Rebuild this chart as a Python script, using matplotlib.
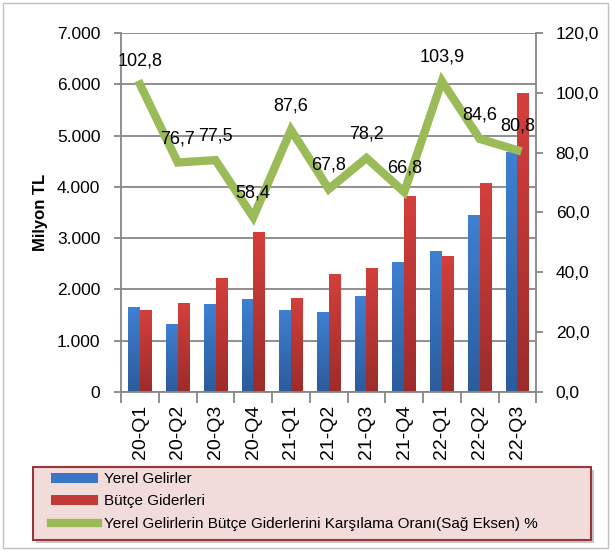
import numpy as np
import matplotlib.pyplot as plt
from matplotlib.colors import LinearSegmentedColormap
from matplotlib.patches import Rectangle
from matplotlib.ticker import FuncFormatter

quarters = ['20-Q1', '20-Q2', '20-Q3', '20-Q4', '21-Q1', '21-Q2', '21-Q3',
            '21-Q4', '22-Q1', '22-Q2', '22-Q3']
yerel = [1650, 1330, 1720, 1820, 1600, 1560, 1870, 2530, 2750, 3450, 4680]
butce = [1600, 1740, 2220, 3120, 1840, 2300, 2420, 3820, 2650, 4070, 5830]
oran = [102.8, 76.7, 77.5, 58.4, 87.6, 67.8, 78.2, 66.8, 103.9, 84.6, 80.8]

plt.rcParams['font.family'] = ['Liberation Sans', 'DejaVu Sans']
grey = '#868686'

fig = plt.figure(figsize=(6.15, 5.55), dpi=100)
ax = fig.add_axes([0.197, 0.294, 0.675, 0.6465])

x = np.arange(len(quarters))
w = 0.31
b1 = ax.bar(x - w / 2, yerel, w, color='#3a77c6', zorder=2, label='Yerel Gelirler')
b2 = ax.bar(x + w / 2, butce, w, color='#c23a38', zorder=2, label='Bütçe Giderleri')

# dikey renk geçişi
cm_b = LinearSegmentedColormap.from_list('b', ['#2b5c9c', '#3f80d2'])
cm_r = LinearSegmentedColormap.from_list('r', ['#9c2c2a', '#d43f3c'])
grad = np.linspace(0, 1, 64).reshape(-1, 1)
for bars, cm in ((b1, cm_b), (b2, cm_r)):
    for p in bars:
        x0, h = p.get_x(), p.get_height()
        im = ax.imshow(grad, extent=[x0, x0 + p.get_width(), 0, h], origin='lower',
                       aspect='auto', cmap=cm, zorder=2.1)
        im.set_clip_path(p)

ax.set_xlim(-0.5, len(quarters) - 0.5)
ax.set_ylim(0, 7000)
ax.set_yticks(range(0, 7001, 1000))
ax.yaxis.set_major_formatter(FuncFormatter(lambda v, p: '{:,.0f}'.format(v).replace(',', '.')))
ax.grid(axis='y', color=grey, lw=1.3, zorder=0)
ax.set_xticks(x)
ax.set_xticklabels(quarters, rotation=90, fontsize=14)
ax.set_xticks(np.arange(-0.5, len(quarters)), minor=True)
ax.tick_params(axis='x', which='major', length=0, pad=9)
ax.tick_params(axis='x', which='minor', length=8, width=1.3, color=grey)
ax.tick_params(axis='y', labelsize=12.5, length=5, width=1.3, color=grey, pad=10)
ax.set_ylabel('Milyon TL', fontsize=12, fontweight='bold', labelpad=6)
for s in ['left', 'bottom', 'right']:
    ax.spines[s].set_color(grey)
    ax.spines[s].set_linewidth(1.3)
ax.spines['top'].set_visible(False)

ax2 = ax.twinx()
ln, = ax2.plot(x, oran, color='#9bbb59', lw=6, solid_joinstyle='miter',
               label='Yerel Gelirlerin Bütçe Giderlerini Karşılama Oranı(Sağ Eksen) %')
ax2.set_ylim(0, 120)
ax2.set_yticks(range(0, 121, 20))
ax2.yaxis.set_major_formatter(FuncFormatter(lambda v, p: '{:.1f}'.format(v).replace('.', ',')))
ax2.tick_params(axis='y', labelsize=12.5, length=5, width=1.3, color=grey, pad=9)
for s in ax2.spines.values():
    s.set_visible(False)
for xi, v in zip(x, oran):
    ax2.annotate('{:.1f}'.format(v).replace('.', ','), (xi, v), xytext=(0, 11),
                 textcoords='offset points', ha='center', va='bottom', fontsize=13)

# lejant kutusu (gölgeli)
fig.patches.append(Rectangle((0.0587, 0.021), 0.907, 0.1315, transform=fig.transFigure,
                             facecolor='#a0a0a0', edgecolor='none', alpha=0.6))
fig.patches.append(Rectangle((0.0537, 0.027), 0.907, 0.1315, transform=fig.transFigure,
                             facecolor='#f2dcdb', edgecolor='#953735', lw=1.5))
leg = fig.legend([b1, b2, ln], [b1.get_label(), b2.get_label(), ln.get_label()],
                 loc='upper left', bbox_to_anchor=(0.0829, 0.1495),
                 borderaxespad=0, borderpad=0, fontsize=11, handlelength=3.1,
                 handleheight=0.65, labelspacing=0.55, handletextpad=0.4,
                 frameon=False)

fig.patches.append(Rectangle((0.005, 0.012), 0.984, 0.982, transform=fig.transFigure,
                             fill=False, edgecolor='#bfbfbf', lw=1))

fig.savefig('out.png', dpi=100)
